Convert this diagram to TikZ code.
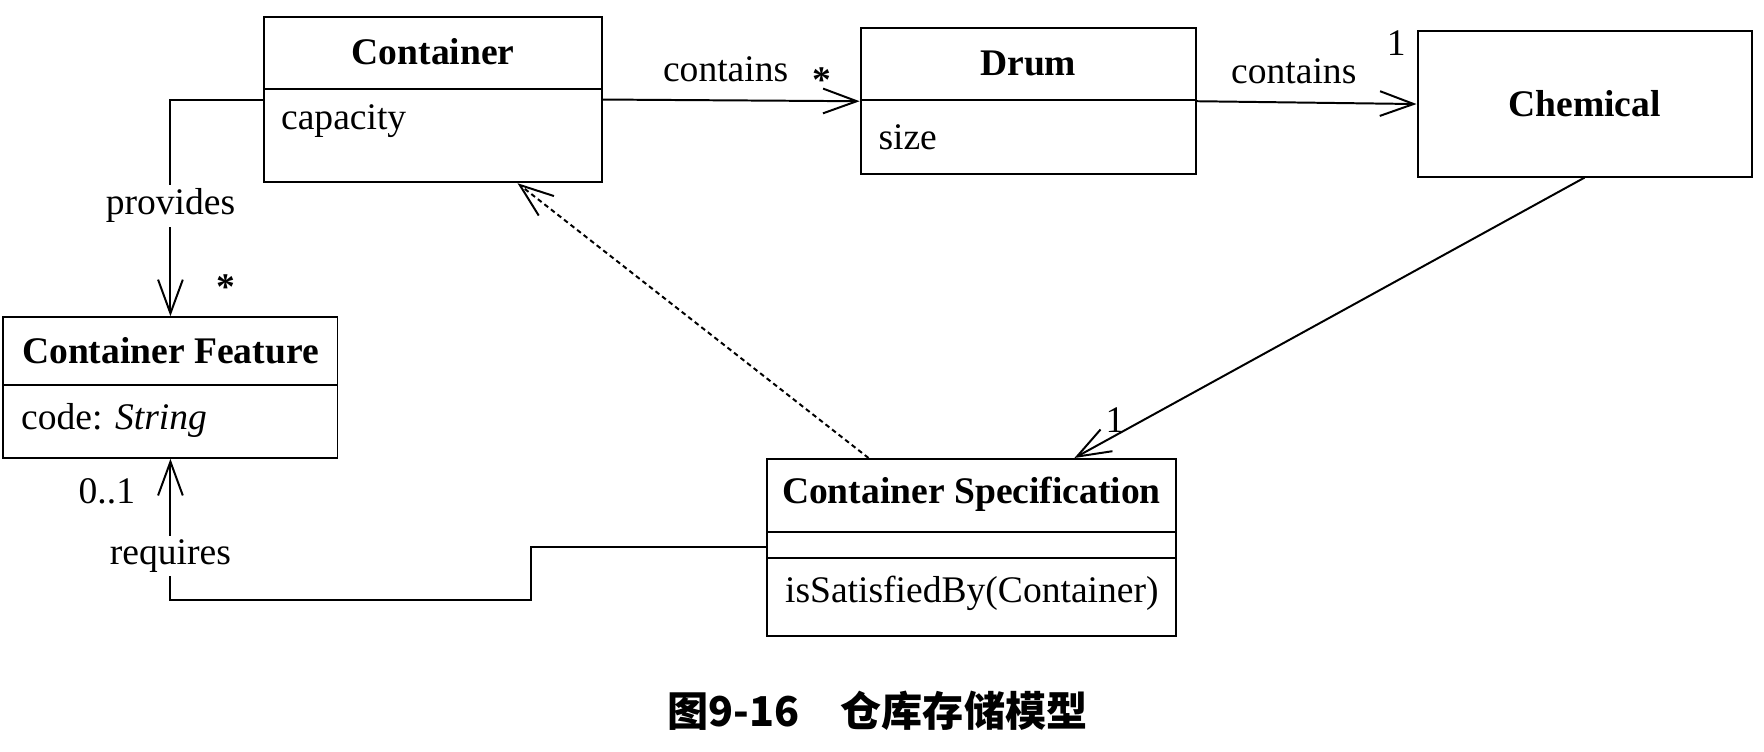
\documentclass[tikz,border=0pt]{standalone}
\usepackage{fontspec}
\setmainfont{Liberation Serif}
\newfontfamily\cjk{Noto Sans CJK SC}
\usetikzlibrary{arrows.meta}

\begin{document}
\begin{tikzpicture}[line width=0.5pt,
  >={Straight Barb[length=3mm,width=2.2mm]},
  every node/.style={font=\fontsize{9.5}{11}\selectfont},
  umlclass/.style={shape=rectangle,draw,inner sep=0pt},
  member/.style={anchor=west,inner sep=0pt},
  rolelabel/.style={fill=white,inner sep=1pt}]
\useasboundingbox (0,0) rectangle (15.68,6.68);

\path (3.85,5.795) node (container) [umlclass,minimum width=3cm,minimum height=1.47cm] {};
\path (9.14,5.78) node (drum) [umlclass,minimum width=2.98cm,minimum height=1.30cm] {};
\path (14.085,5.755) node (chemical) [umlclass,minimum width=2.97cm,minimum height=1.29cm] {\textbf{Chemical}};
\path (1.515,3.235) node (feature) [umlclass,minimum width=2.97cm,minimum height=1.25cm] {};
\path (8.635,1.815) node (spec) [umlclass,minimum width=3.63cm,minimum height=1.57cm] {};

% compartments
\draw ([yshift=-0.65cm]container.north west) -- ([yshift=-0.65cm]container.north east);
\draw ([yshift=-0.65cm]drum.north west) -- ([yshift=-0.65cm]drum.north east);
\draw ([yshift=-0.61cm]feature.north west) -- ([yshift=-0.61cm]feature.north east);
\draw ([yshift=-0.66cm]spec.north west) -- ([yshift=-0.66cm]spec.north east);
\draw ([yshift=-0.89cm]spec.north west) -- ([yshift=-0.89cm]spec.north east);

\path (3.85,6.22) node (containername) {\textbf{Container}};
\path (2.49,5.60) node (capacity) [member] {capacity};
\path (9.14,6.115) node (drumname) {\textbf{Drum}};
\path (7.80,5.46) node (size) [member] {size};
\path (1.515,3.565) node (featurename) {\textbf{Container Feature}};
\path (0.18,2.94) node (code) [member] {code: \textit{String}};
\path (8.635,2.285) node (specname) {\textbf{Container Specification}};
\path (6.97,1.41) node (satisfied) [member] {isSatisfiedBy(Container)};

% associations
\draw [->] (container.east) -- (drum.west);
\draw [->] (drum.east) -- (chemical.west);
\draw [->] (container.west) -| node [rolelabel,pos=0.745] {provides} (feature.north);
\draw [->] (chemical.south) -- ([xshift=0.915cm]spec.north);
\draw [->,dash pattern=on 1.2pt off 0.9pt] ([xshift=-0.915cm]spec.north) -- ([xshift=0.75cm]container.south);
\draw [->] (spec.west) -- ++(-2.09,0) -- ++(0,-0.47) -| node [rolelabel,pos=0.656] {requires} (feature.south);

\path (6.45,6.06) node (containsdrum) {contains};
\path (7.31,5.97) node (drummult) {\textbf{*}};
\path (11.50,6.05) node (containschem) {contains};
\path (12.41,6.30) node (chemmult) {1};
\path (2.01,4.13) node (featuremult) {\textbf{*}};
\path (9.91,2.95) node (specmult) {1};
\path (0.95,2.31) node (requiresmult) {0..1};

\path (7.80,0.36) node (caption) {\fontsize{10.4}{12}\selectfont\cjk\bfseries 图9-16\quad 仓库存储模型};
\end{tikzpicture}
\end{document}
